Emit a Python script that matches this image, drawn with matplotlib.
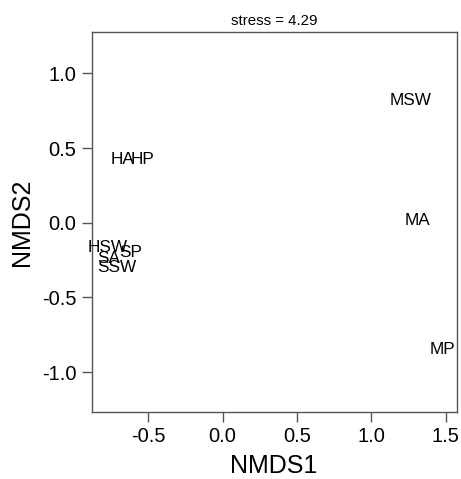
import matplotlib
matplotlib.use("Agg")
import matplotlib.pyplot as plt

plt.rcParams['font.family'] = ['Liberation Sans', 'DejaVu Sans']

labels = ["MSW", "MA", "MP", "HA", "HP", "HSW", "SP", "SA", "SSW"]
nmds1 = [1.265, 1.312, 1.48, -0.670, -0.538, -0.771, -0.621, -0.764, -0.710]
nmds2 = [0.82, 0.018, -0.85, 0.426, 0.426, -0.163, -0.196, -0.237, -0.297]
xticks = [-0.5, 0.0, 0.5, 1.0, 1.5]
yticks = [-1.0, -0.5, 0.0, 0.5, 1.0]
title = "stress = 4.29"

fig = plt.figure(figsize=(4.61, 4.79), dpi=100)
ax = fig.add_axes([91.7/461, 1-411.7/479, (456.5-91.7)/461, (411.7-32.3)/479])

for lab, x, y in zip(labels, nmds1, nmds2):
    ax.text(x, y, lab, ha='center', va='center', fontsize=12.3, color='black', clip_on=False)

ax.set_xlim(-0.880, 1.572)
ax.set_ylim(-1.264, 1.274)
ax.set_xticks(xticks)
ax.set_xticklabels([f"{v:.1f}" for v in xticks])
ax.set_yticks(yticks)
ax.set_yticklabels([f"{v:.1f}" for v in yticks])
for s in ax.spines.values():
    s.set_color('#555555')
    s.set_linewidth(1.0)
ax.tick_params(axis='both', direction='out', length=7, width=1.0, color='#555555',
               labelsize=14.5, pad=4)
ax.set_xlabel("NMDS1", fontsize=18, labelpad=6)
ax.set_ylabel("NMDS2", fontsize=18, labelpad=6)
ax.set_title(title, fontsize=10.8, pad=5)

fig.savefig("out.png", dpi=100)
